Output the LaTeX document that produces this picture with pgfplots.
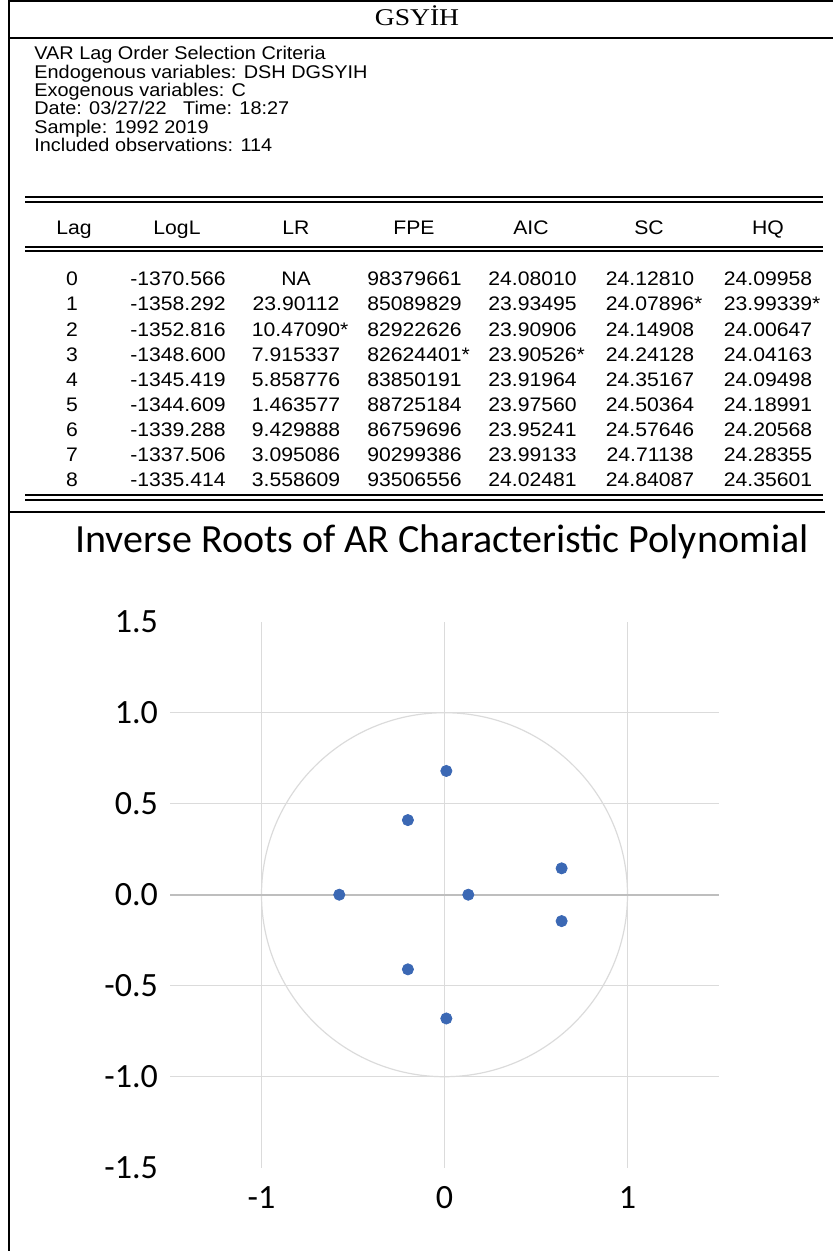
\documentclass[border=0pt]{standalone}
\usepackage{fontspec}
\setmainfont{Liberation Sans}
\newfontfamily\tabfont[FakeStretch=1.08]{Liberation Sans}
\newfontfamily\carlito{Carlito}
\newfontfamily\serif[FakeStretch=1.15]{Liberation Serif}
\usepackage{pgfplots}
\pgfplotsset{compat=1.18}
\definecolor{rootblue}{RGB}{59,104,180}
\definecolor{gridgray}{RGB}{219,219,219}
\definecolor{axisgray}{RGB}{190,190,190}
\newcommand\st{\rlap{*}}

\begin{document}
\begin{tikzpicture}
\useasboundingbox (0,0) rectangle (416.5pt,-625.5pt);
% table part, drawn in pixel units of the reference
\begin{scope}[x=0.5pt,y=-0.5pt]
  \draw[line width=1.2pt] (9,0) -- (9,1251);
  \draw[line width=1.2pt] (8,1) -- (833,1);
  \draw[line width=1pt] (8,38) -- (833,38);
  \node[anchor=base, inner sep=0pt, font=\serif\fontsize{12}{12}\selectfont] at (417,26) {GSYİH};
  \begin{scope}[every node/.style={anchor=base west, inner sep=0pt, font=\tabfont\fontsize{9.2}{9.2}\selectfont}]
    \node at (34,60) {VAR Lag Order Selection Criteria};
    \node at (34,79) {Endogenous variables: DSH DGSYIH};
    \node at (34,97) {Exogenous variables: C};
    \node at (34,115) {Date: 03/27/22\ \ \ Time: 18:27};
    \node at (34,134) {Sample: 1992 2019};
    \node at (34,152) {Included observations: 114};
  \end{scope}
  \foreach \yy in {197,202,247,251,495,500}
    \draw[line width=0.8pt] (25,\yy) -- (823,\yy);
  \draw[line width=0.9pt] (8,512) -- (825,512);
  \begin{scope}[every node/.style={anchor=base, inner sep=0pt, font=\tabfont\fontsize{9.8}{9.8}\selectfont}]
    \foreach \xx/\hd in {74/Lag,177/LogL,296/LR,414/FPE,531/AIC,649/SC,768/HQ}
      \node at (\xx,235) {\hd};
    \foreach \r/\a/\b/\c/\d/\e/\f in {
      0/-1370.566/NA/98379661/24.08010/24.12810/24.09958,
      1/-1358.292/23.90112/85089829/23.93495/24.07896\st/23.99339\st,
      2/-1352.816/10.47090\st/82922626/23.90906/24.14908/24.00647,
      3/-1348.600/7.915337/82624401\st/23.90526\st/24.24128/24.04163,
      4/-1345.419/5.858776/83850191/23.91964/24.35167/24.09498,
      5/-1344.609/1.463577/88725184/23.97560/24.50364/24.18991,
      6/-1339.288/9.429888/86759696/23.95241/24.57646/24.20568,
      7/-1337.506/3.095086/90299386/23.99133/24.71138/24.28355,
      8/-1335.414/3.558609/93506556/24.02481/24.84087/24.35601}{
      \pgfmathsetmacro\yy{286+25*\r}
      \node at (72,\yy) {\r};
      \node at (178,\yy) {\a};
      \node at (296,\yy) {\b};
      \node at (414.5,\yy) {\c};
      \node at (532.5,\yy) {\d};
      \node at (650,\yy) {\e};
      \node at (768,\yy) {\f};
    }
  \end{scope}
\end{scope}

\node[anchor=base, font=\carlito\fontsize{20}{20}\selectfont] at (221pt,-276pt)
  {Inverse Roots of AR Characteristic Polynomial};

\begin{axis}[
  at={(85pt,-583.85pt)}, anchor=south west,
  scale only axis, width=274.5pt, height=273pt,
  xmin=-1.5, xmax=1.5, ymin=-1.5, ymax=1.5,
  axis line style={draw=none},
  major tick length=0pt,
  grid=major,
  grid style={gridgray, line width=0.5pt},
  xtick={-1,0,1}, xticklabels={-1,0,1},
  ytick={-1,-0.5,0,0.5,1}, yticklabels={-1.0,-0.5,0.0,0.5,1.0},
  extra y ticks={-1.5,1.5}, extra y tick labels={-1.5,1.5},
  extra y tick style={grid=none},
  ticklabel style={font=\carlito\fontsize{17}{17}\selectfont},
  yticklabel style={xshift=-2.5pt},
  xticklabel style={yshift=-6pt},
  clip=false,
]
\draw[gridgray, line width=0.6pt] (axis cs:0,0) ellipse [x radius=1, y radius=1];
\draw[axisgray, line width=0.9pt] (axis cs:-1.5,0) -- (axis cs:1.5,0);
\addplot[only marks, mark=*, mark size=2.8pt, color=rootblue] coordinates {
  (0.01,0.68) (0.01,-0.68) (-0.20,0.41) (-0.20,-0.41)
  (0.64,0.145) (0.64,-0.145) (-0.575,0) (0.13,0)
};
\end{axis}
\end{tikzpicture}
\end{document}
